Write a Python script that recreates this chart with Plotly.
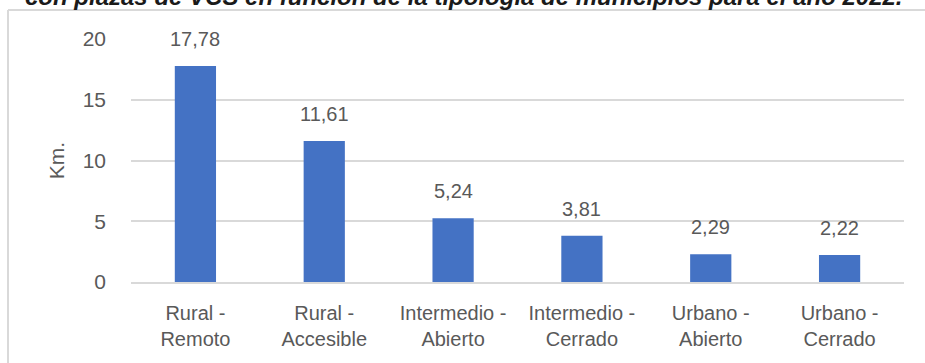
import plotly.graph_objects as go

categories = ["Rural -<br>Remoto", "Rural -<br>Accesible", "Intermedio -<br>Abierto",
              "Intermedio -<br>Cerrado", "Urbano -<br>Abierto", "Urbano -<br>Cerrado"]
values = [17.78, 11.61, 5.24, 3.81, 2.29, 2.22]
y_ticks = [0, 5, 10, 15, 20]
title_text = "con plazas de VCS en función de la tipología de municipios para el año 2022."

W, H = 925, 363
ml, mr, mt, mb = 131, 21, 39, 81
pw, ph = W - ml - mr, H - mt - mb

def px_x(x):
    return (x - ml) / pw

def px_y(y):
    return (H - mb - y) / ph

font_main = "Liberation Sans, Arial, sans-serif"
gray = "#595959"

fig = go.Figure(go.Bar(
    x=categories, y=values,
    marker=dict(color="#4472C4", line=dict(width=0)),
    hoverinfo="x+y",
))

value_labels = [dict(x=c, y=v, xref="x", yref="y", text=f"{v:.2f}".replace(".", ","),
                     showarrow=False, yanchor="middle", yshift=27,
                     font=dict(size=20, color=gray, family=font_main))
                for c, v in zip(categories, values)]

fig.update_layout(
    width=W, height=H,
    margin=dict(l=ml, r=mr, t=mt, b=mb),
    paper_bgcolor="white", plot_bgcolor="white",
    separators=",.",
    bargap=0.68,
    showlegend=False,
    font=dict(family=font_main, color=gray, size=20),
    xaxis=dict(showgrid=False, showline=True, linecolor="#d9d9d9", linewidth=1.5,
               ticks="", tickfont=dict(size=20, color=gray), ticklabelstandoff=12),
    yaxis=dict(range=[0, 20], tickvals=y_ticks, showgrid=True, gridcolor="#d9d9d9",
               gridwidth=1.5, zeroline=False, showline=False, ticks="",
               ticklen=0, tickfont=dict(size=21, color=gray), ticklabelstandoff=24,
               title=dict(text="Km.", font=dict(size=21, color=gray), standoff=12)),
    shapes=[
        dict(type="line", xref="paper", yref="paper", x0=px_x(8), x1=px_x(8),
             y0=px_y(10), y1=px_y(H + 5), line=dict(color="#d9d9d9", width=2)),
        dict(type="line", xref="paper", yref="paper", x0=px_x(8), x1=px_x(W + 5),
             y0=px_y(10), y1=px_y(10), line=dict(color="#d9d9d9", width=2)),
    ],
    annotations=value_labels + [dict(
        text="<b><i>" + title_text + "</i></b>", xref="paper", yref="paper",
        x=px_x(464), y=px_y(12), xanchor="center", yanchor="bottom", showarrow=False,
        font=dict(size=24, color="#1a1a1a", family="Liberation Sans, Arial, sans-serif"),
    )],
)

fig.write_html("out.html")
